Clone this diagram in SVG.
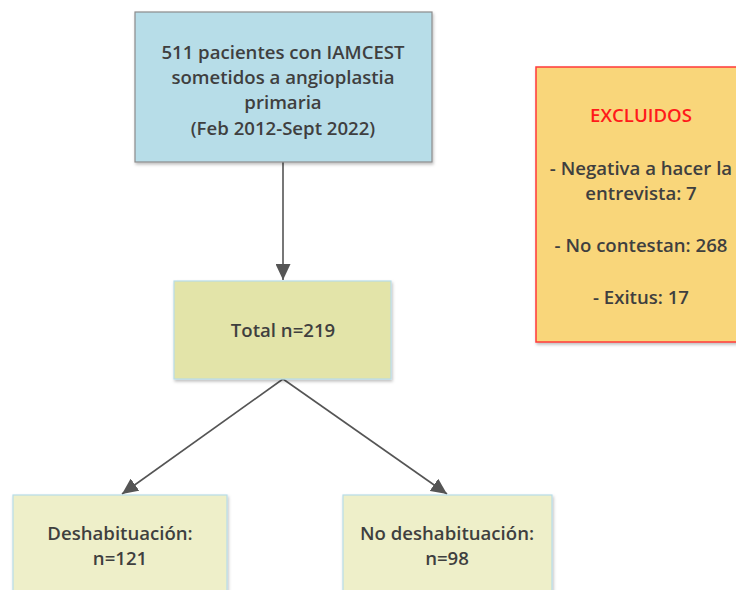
<svg xmlns="http://www.w3.org/2000/svg" width="736" height="590" viewBox="0 0 736 590">
<style>
text{font-family:"Open Sans","Liberation Sans",sans-serif;font-weight:600;font-size:18.6px;fill:#3f3f3f;text-anchor:middle}
.red{fill:#ff1a1a}
.conn{stroke:#555;stroke-width:1.6;fill:none}
</style>
<defs>
<filter id="sh" x="-10%" y="-10%" width="120%" height="120%">
<feDropShadow dx="1" dy="2" stdDeviation="1.5" flood-color="#000" flood-opacity="0.25"/>
</filter>
<marker id="ah" viewBox="0 0 16 15" refX="16" refY="7.5" markerWidth="16" markerHeight="15" markerUnits="userSpaceOnUse" orient="auto">
<path d="M0,0 L16,7.5 L0,15 Z" fill="#555"/>
</marker>
</defs>
<rect width="736" height="590" fill="#fff"/>
<g id="connectors">
<line class="conn" x1="283" y1="162" x2="283" y2="280" marker-end="url(#ah)"/>
<line class="conn" x1="283" y1="379" x2="122" y2="494" marker-end="url(#ah)"/>
<line class="conn" x1="283" y1="379" x2="447" y2="494" marker-end="url(#ah)"/>
</g>
<g id="n-inicio">
<rect x="135" y="12" width="297" height="150" fill="#b7dde8" stroke="#8c8c8c" stroke-width="1.2" filter="url(#sh)"/>
<text x="283" y="59">511 pacientes con IAMCEST</text>
<text x="283" y="84">sometidos a angioplastia</text>
<text x="283" y="109">primaria</text>
<text x="283" y="135">(Feb 2012-Sept 2022)</text>
</g>
<g id="n-excluidos">
<rect x="536" y="67" width="210" height="275" fill="#f9d67a" stroke="#ff3b3b" stroke-width="1.5" filter="url(#sh)"/>
<text x="641" y="122" class="red">EXCLUIDOS</text>
<text x="641" y="175">- Negativa a hacer la</text>
<text x="641" y="200">entrevista: 7</text>
<text x="641" y="252">- No contestan: 268</text>
<text x="641" y="304">- Exitus: 17</text>
</g>
<g id="n-total">
<rect x="174" y="281" width="217" height="98" fill="#e3e4a9" stroke="#b7dde8" stroke-width="1.2" filter="url(#sh)"/>
<text x="283" y="337">Total n=219</text>
</g>
<g id="n-deshab">
<rect x="13" y="495" width="214" height="110" fill="#eeefc9" stroke="#b7dde8" stroke-width="1.2" filter="url(#sh)"/>
<text x="120" y="540">Deshabituación:</text>
<text x="120" y="565">n=121</text>
</g>
<g id="n-nodeshab">
<rect x="343" y="495" width="209" height="110" fill="#eeefc9" stroke="#b7dde8" stroke-width="1.2" filter="url(#sh)"/>
<text x="447" y="540">No deshabituación:</text>
<text x="447" y="565">n=98</text>
</g>
</svg>
